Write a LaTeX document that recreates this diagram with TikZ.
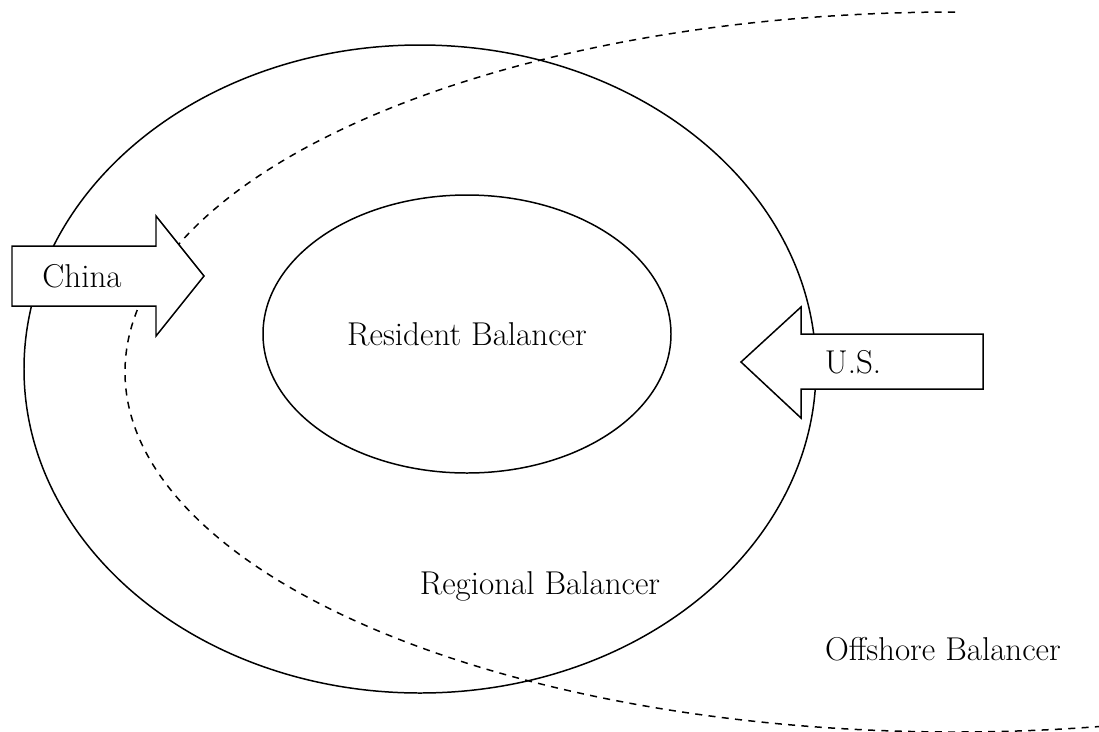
\documentclass[tikz,border=0pt]{standalone}
\usepackage{amsmath}
\usetikzlibrary{positioning}

\tikzset{
    balancer/.style={font=\fontsize{18.8}{22}\selectfont},
    bigarrow/.style={draw=black, fill=white, line width=0.85pt, line join=miter}
}

\begin{document}
\begin{tikzpicture}[x=0.02cm, y=-0.02cm, line width=0.85pt]

        \useasboundingbox (0,0) rectangle (1099,731);
        \clip (0,0) rectangle (1099,731);

        % the three balancer regions
        \coordinate (outerc) at (420,369);
        \coordinate (innerc) at (467,334);
        \draw (outerc) ellipse (396 and 324);
        \draw (innerc) ellipse (204 and 139);
        \draw[dash pattern=on 4pt off 3.6pt] (955,12) arc[start angle=270, end angle=70, x radius=830, y radius=360];

        \node[balancer] (res) at (innerc) {Resident Balancer};
        \node[balancer] (reg) at (540,586) {Regional Balancer};
        \node[balancer] (off) at (943,649) {Offshore Balancer};

        % China
        \draw[bigarrow] (12,246) -- (156,246) -- (156,216) -- (204,276) -- (156,336) -- (156,306) -- (12,306) -- cycle;
        \node[balancer] (china) at (82,276) {China};

        % U.S.
        \draw[bigarrow] (983,334) -- (801,334) -- (801,307) -- (741,362) -- (801,418) -- (801,389) -- (983,389) -- cycle;
        \node[balancer] (us) at (853,362) {U.S.};

\end{tikzpicture}
\end{document}
